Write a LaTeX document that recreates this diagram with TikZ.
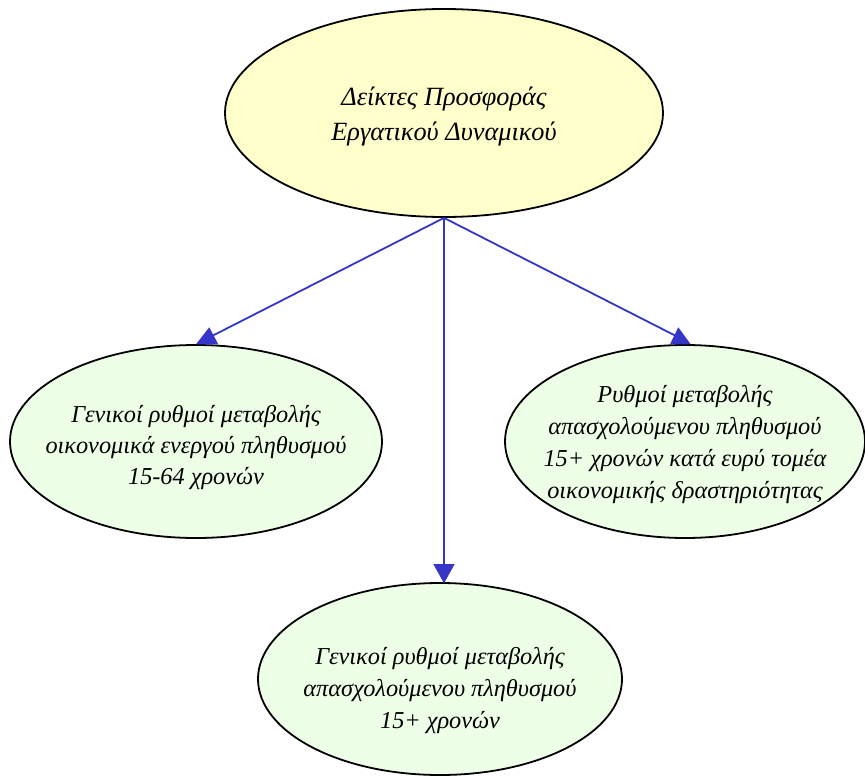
\documentclass[tikz,border=0pt]{standalone}
\usepackage{fontspec}
\setmainfont{Liberation Serif}
\usetikzlibrary{shapes.geometric}
\definecolor{topfill}{HTML}{FFFFCC}
\definecolor{subfill}{HTML}{EEFFE8}
\definecolor{arrowblue}{HTML}{3535C8}
\begin{document}
\begin{tikzpicture}[x=1pt,y=-1pt,
  ell/.style={ellipse,draw=black,line width=1.8pt,inner sep=0pt},
  toptext/.style={align=center,inner sep=0pt,font=\itshape\fontsize{26.3}{35}\selectfont},
  subtext/.style={align=center,inner sep=0pt,font=\itshape\fontsize{24.3}{31}\selectfont},
  topell/.style={ell,fill=topfill,minimum width=438pt,minimum height=208pt},
  subell/.style={ell,fill=subfill},
  conn/.style={draw=arrowblue,line width=1.8pt},
  tipfill/.style={fill=arrowblue}]
\useasboundingbox (0,0) rectangle (865,776);
\node[topell,label={[toptext,yshift=-4pt]center:Δείκτες Προσφοράς\\Εργατικού Δυναμικού}] (top) at (444,113) {};
\node[subell,minimum width=372pt,minimum height=193pt,
  label={[subtext,yshift=-6pt]center:Γενικοί ρυθμοί μεταβολής\\οικονομικά ενεργού πληθυσμού\\15-64 χρονών}] (left) at (196,441.5) {};
\node[subell,minimum width=360pt,minimum height=193pt,
  label={[subtext,yshift=-3pt,font=\itshape\fontsize{24.3}{32}\selectfont]center:Ρυθμοί μεταβολής\\απασχολούμενου πληθυσμού\\15+ χρονών κατά ευρύ τομέα\\οικονομικής δραστηριότητας}] (right) at (685,441.5) {};
\node[subell,minimum width=364pt,minimum height=192pt,
  label={[subtext,yshift=-12pt,font=\itshape\fontsize{24.3}{32}\selectfont]center:Γενικοί ρυθμοί μεταβολής\\απασχολούμενου πληθυσμού\\15+ χρονών}] (bottom) at (440,679) {};
\coordinate (tipL) at (209.3,327.3);
\coordinate (tipR) at (678.3,327.3);
\coordinate (tipB) at (444,564);
\coordinate (endL) at (212,336);
\coordinate (endR) at (676,336);
\draw[conn] (top.south) -- (endL);
\draw[conn] (top.south) -- (endR);
\draw[conn] (top.south) -- (tipB);
\fill[tipfill] (tipL) -- ++(-13.3,17) -- ++(22.3,0) -- cycle;
\fill[tipfill] (tipR) -- ++(-8.3,17) -- ++(20.7,0) -- cycle;
\fill[tipfill] (tipB) -- ++(-10.7,0) -- ++(10.7,19.3) -- ++(10.7,-19.3) -- cycle;
\end{tikzpicture}
\end{document}
